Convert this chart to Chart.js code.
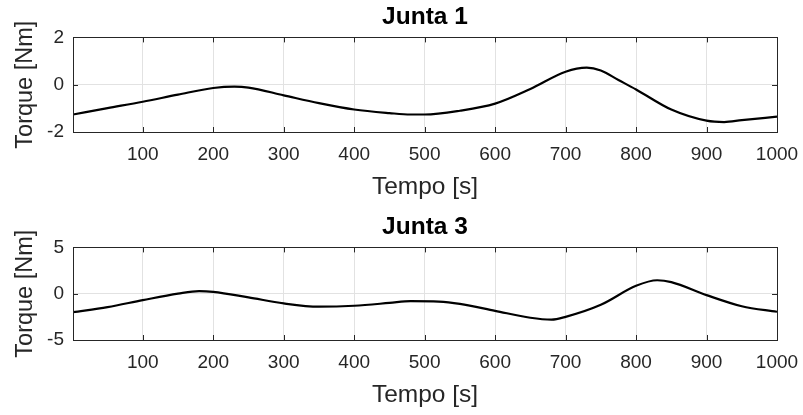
<!DOCTYPE html>
<html lang="en">

<head>
    <meta charset="UTF-8">
    <title>Torque nas juntas</title>
    <style>
        body {
            margin: 0;
            background-color: #ffffff;
            width: 803px;
            height: 415px;
            overflow: hidden;
            position: relative;
        }

        canvas {
            position: absolute;
            left: 0;
        }

        #chart1 {
            top: 0;
        }

        #chart2 {
            top: 210px;
        }
    </style>
</head>

<body>
    <canvas id="chart1" width="803" height="207"></canvas>
    <canvas id="chart2" width="803" height="205"></canvas>

    <script src="https://cdn.jsdelivr.net/npm/chart.js"></script>
    <script>
        // values
        const tempoJunta1 = [1, 50, 100, 150, 200, 230, 250, 300, 350, 400, 450, 480, 500, 550, 600, 650, 700, 730, 750, 775, 800, 850, 900, 925, 950, 1000];
        const torqueJunta1 = [-1.26, -0.99, -0.72, -0.42, -0.14, -0.08, -0.12, -0.45, -0.78, -1.05, -1.2, -1.26, -1.26, -1.1, -0.8, -0.18, 0.55, 0.72, 0.6, 0.2, -0.2, -1.05, -1.52, -1.58, -1.5, -1.35];

        const tempoJunta3 = [1, 50, 100, 150, 180, 200, 250, 300, 350, 400, 450, 480, 520, 550, 600, 650, 680, 700, 750, 800, 830, 850, 900, 950, 1000];
        const torqueJunta3 = [-2.0, -1.45, -0.7, 0.0, 0.28, 0.2, -0.4, -1.05, -1.4, -1.3, -1.0, -0.8, -0.85, -1.1, -1.85, -2.6, -2.8, -2.5, -1.2, 0.85, 1.45, 1.25, -0.15, -1.35, -1.95];

        const xTicks = [100, 200, 300, 400, 500, 600, 700, 800, 900, 1000];
        const yTicksJunta1 = [-2, 0, 2];
        const yTicksJunta3 = [-5, 0, 5];

        const axisColor = '#262626';
        const fontFamily = "'Liberation Sans', Arial, sans-serif";

        // MATLAB style box with inward tick marks
        const boxPlugin = {
            id: 'box',
            afterDraw(chart) {
                const { ctx, chartArea: a, scales: { x, y } } = chart;
                const len = 5;
                ctx.save();
                ctx.strokeStyle = axisColor;
                ctx.lineWidth = 1;
                ctx.beginPath();
                x.ticks.forEach(t => {
                    const px = Math.round(x.getPixelForValue(t.value)) + 0.5;
                    ctx.moveTo(px, a.bottom);
                    ctx.lineTo(px, a.bottom - len);
                    ctx.moveTo(px, a.top);
                    ctx.lineTo(px, a.top + len);
                });
                y.ticks.forEach(t => {
                    const py = Math.round(y.getPixelForValue(t.value)) + 0.5;
                    ctx.moveTo(a.left, py);
                    ctx.lineTo(a.left + len, py);
                    ctx.moveTo(a.right, py);
                    ctx.lineTo(a.right - len, py);
                });
                ctx.stroke();
                ctx.strokeRect(Math.round(a.left) + 0.5, Math.round(a.top) + 0.5, Math.round(a.width), Math.round(a.height));
                ctx.restore();
            }
        };

        function makeChart(id, title, tempo, torque, yTicks) {
            const ctx = document.getElementById(id).getContext('2d');
            return new Chart(ctx, {
                type: 'line',
                data: {
                    datasets: [{
                        data: tempo.map((t, i) => ({ x: t, y: torque[i] })),
                        borderColor: '#000000',
                        borderWidth: 2.2,
                        pointRadius: 0,
                        fill: false,
                        cubicInterpolationMode: 'monotone',
                    }],
                },
                options: {
                    responsive: false,
                    animation: false,
                    devicePixelRatio: 1,
                    layout: {
                        padding: { top: 0, right: 26, bottom: 5, left: 0 },
                    },
                    plugins: {
                        legend: { display: false },
                        tooltip: { enabled: false },
                        title: {
                            display: true,
                            text: title,
                            fullSize: false,
                            color: '#000000',
                            font: { family: fontFamily, size: 24.5, weight: 'bold' },
                            padding: { top: 3, bottom: 5 },
                        },
                    },
                    scales: {
                        x: {
                            type: 'linear',
                            min: 1,
                            max: 1000,
                            afterBuildTicks: s => { s.ticks = xTicks.map(v => ({ value: v })); },
                            afterFit: s => {
                                s.height = 70;
                                s.paddingLeft = 0;
                                s.paddingRight = 0;
                            },
                            border: { display: false },
                            grid: { color: '#e2e2e2', drawTicks: false },
                            ticks: {
                                padding: 11,
                                color: axisColor,
                                maxRotation: 0,
                                font: { family: fontFamily, size: 19 },
                                callback: v => String(v),
                            },
                            title: {
                                display: true,
                                text: 'Tempo [s]',
                                color: axisColor,
                                font: { family: fontFamily, size: 24.5 },
                                padding: { top: 0, bottom: 0 },
                            },
                        },
                        y: {
                            min: yTicks[0],
                            max: yTicks[yTicks.length - 1],
                            afterBuildTicks: s => { s.ticks = yTicks.map(v => ({ value: v })); },
                            afterFit: s => { s.width = 73; },
                            border: { display: false },
                            grid: { color: '#e2e2e2', drawTicks: false },
                            ticks: {
                                padding: 9,
                                color: axisColor,
                                font: { family: fontFamily, size: 19 },
                            },
                            title: {
                                display: true,
                                text: 'Torque [Nm]',
                                color: axisColor,
                                font: { family: fontFamily, size: 23.5 },
                                padding: { top: 11, bottom: 0 },
                            },
                        },
                    },
                },
                plugins: [boxPlugin],
            });
        }

        makeChart('chart1', 'Junta 1', tempoJunta1, torqueJunta1, yTicksJunta1);
        makeChart('chart2', 'Junta 3', tempoJunta3, torqueJunta3, yTicksJunta3);
    </script>
</body>

</html>
